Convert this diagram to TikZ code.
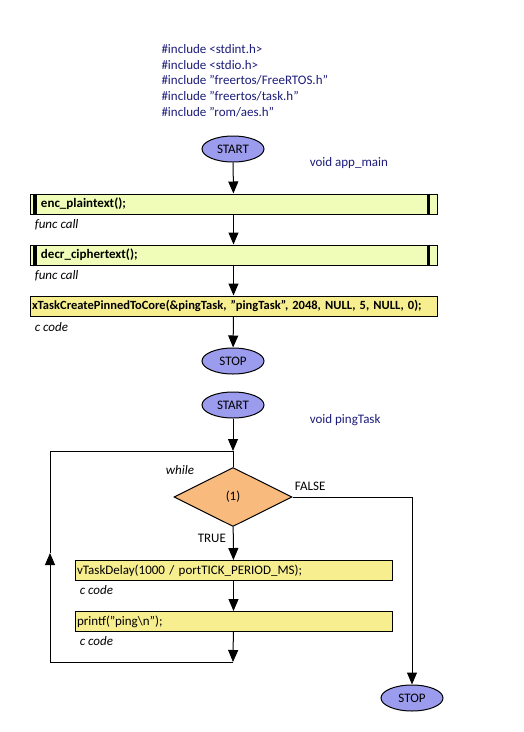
\documentclass[tikz,border=0pt]{standalone}
\usepackage{fontspec}
\setmainfont{Carlito}
\usetikzlibrary{shapes.geometric,arrows.meta}
\definecolor{navytext}{HTML}{1C1C7A}
\definecolor{termfill}{HTML}{9C9CEE}
\definecolor{callfill}{HTML}{F0FDB8}
\definecolor{codefill}{HTML}{F7EE90}
\definecolor{testfill}{HTML}{F9BA7E}
\begin{document}
\begin{tikzpicture}[x=1pt,y=-1pt,line width=1,font=\fontsize{13}{15}\selectfont,
  term/.style={ellipse,draw,fill=termfill,minimum width=62,minimum height=26,inner sep=0},
  callbox/.style={rectangle,draw,fill=callfill,minimum height=20,text width=385,inner xsep=11,inner ysep=0,align=left,font=\fontsize{13}{15}\selectfont\bfseries},
  codebox/.style={rectangle,draw,fill=codefill,minimum height=20,text width=403,inner xsep=2,inner ysep=0,align=left},
  testbox/.style={diamond,draw,fill=testfill,minimum width=118,minimum height=59,inner sep=0},
  note/.style={anchor=west,font=\fontsize{13}{15}\selectfont\itshape},
  arr/.style={-{Triangle[width=10,length=12]}}]

\useasboundingbox (0,0) rectangle (524,732);

% headers
\node[anchor=north west,align=left,text=navytext,inner sep=0,font=\fontsize{13}{15.7}\selectfont] (incl) at (161,44)
  {\#include <stdint.h>\\ \#include <stdio.h>\\ \#include "freertos/FreeRTOS.h"\\ \#include "freertos/task.h"\\ \#include "rom/aes.h"};

% app_main
\node[term] (start1) at (233,149) {START};
\node[anchor=west,text=navytext] (fn1) at (306,163) {void app\_main};
\node[callbox] (enc) at (233.5,204) {enc\_plaintext();};
\node[note] (n1) at (31,225) {func call};
\node[callbox] (decr) at (233.5,255) {decr\_ciphertext();};
\node[note] (n2) at (31,276) {func call};
\node[codebox,font=\fontsize{12.5}{15}\selectfont\bfseries] (create) at (233.5,306) {xTaskCreatePinnedToCore(\&pingTask, "pingTask", 2048, NULL, 5, NULL, 0);};
\node[note] (n3) at (31,327) {c code};
\node[term] (stop1) at (233,361) {STOP};

\foreach \b in {enc,decr}{
  \draw[line width=3.5] ([xshift=5.5]\b.north west) -- ([xshift=5.5]\b.south west);
  \draw[line width=3.5] ([xshift=-9]\b.north east) -- ([xshift=-9]\b.south east);
}

\draw[arr] (start1) -- (enc);
\draw[arr] (enc) -- (decr);
\draw[arr] (decr) -- (create);
\draw[arr] (create) -- (stop1);

% pingTask
\node[term] (start2) at (233,405) {START};
\node[anchor=west,text=navytext] (fn2) at (306,420) {void pingTask};
\coordinate (top) at (233,451);
\node[testbox] (test) at (233,497) {(1)};
\node[note] (wh) at (162,470) {while};
\node[anchor=west] (lf) at (291,486) {FALSE};
\node[anchor=west] (lt) at (194,538) {TRUE};
\node[codebox,text width=313] (delay) at (233.5,570.5) {vTaskDelay(1000 / portTICK\_PERIOD\_MS);};
\node[note] (n4) at (76,590) {c code};
\node[codebox,text width=313] (ping) at (233.5,621.5) {printf("ping\textbackslash n");};
\node[note] (n5) at (76,641) {c code};
\coordinate (bot) at (233,662);
\coordinate (left) at (50,553);
\coordinate (rt) at (412,497);
\node[term] (stop2) at (412,698) {STOP};

\draw[arr] (start2) -- (top);
\draw (top) -- (test.north);
\draw[arr] (test) -- (delay);
\draw[arr] (delay) -- (ping);
\draw[arr] (ping) -- (bot);
\draw[arr] (bot) -| (left);
\draw (left) |- (top);
\draw[arr] (test.east) -- (rt) -- (stop2);

\end{tikzpicture}
\end{document}
